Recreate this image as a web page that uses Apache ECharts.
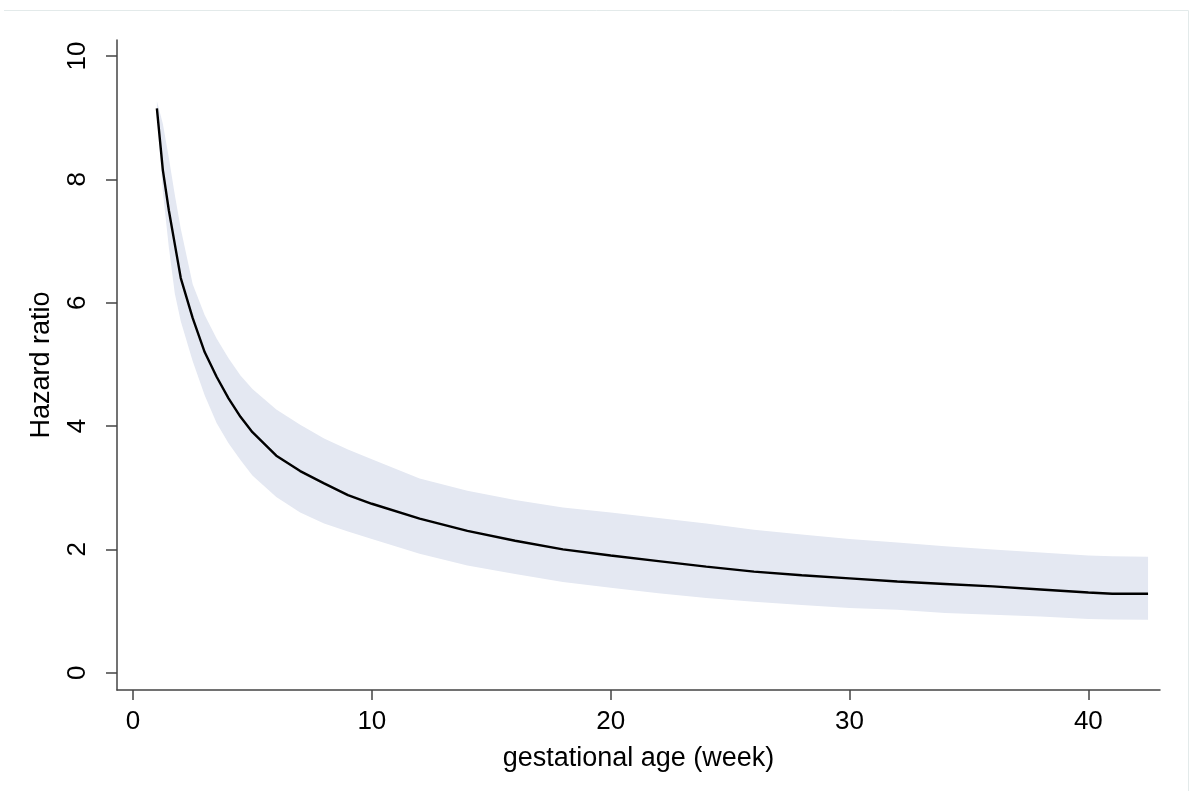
<!DOCTYPE html>
<html>
<head>
<meta charset="utf-8">
<script src="https://cdn.jsdelivr.net/npm/echarts@6/dist/echarts.min.js"></script>
<style>
html, body { margin: 0; padding: 0; background: #fff; }
#chart { width: 1195px; height: 791px; }
</style>
</head>
<body>
<div id="chart"></div>
<script>
// gestational age (week)
var weeks = [1, 1.25, 1.5, 1.75, 2, 2.5, 3, 3.5, 4, 4.5, 5, 6, 7, 8, 9, 10, 12, 14, 16, 18, 20, 22, 24, 26, 28, 30, 32, 34, 36, 38, 40, 41, 42.5];
// hazard ratio estimate
var hr = [9.15, 8.15, 7.5, 6.95, 6.4, 5.75, 5.2, 4.8, 4.45, 4.15, 3.9, 3.52, 3.27, 3.07, 2.88, 2.74, 2.5, 2.3, 2.14, 2.0, 1.9, 1.81, 1.72, 1.64, 1.58, 1.53, 1.48, 1.44, 1.4, 1.35, 1.3, 1.28, 1.28];
// confidence band
var upper = [9.27, 8.9, 8.35, 7.75, 7.2, 6.3, 5.8, 5.42, 5.1, 4.82, 4.6, 4.27, 4.02, 3.8, 3.62, 3.46, 3.15, 2.95, 2.8, 2.68, 2.6, 2.51, 2.42, 2.32, 2.24, 2.17, 2.11, 2.05, 2.0, 1.95, 1.9, 1.89, 1.88];
var lower = [9.05, 7.8, 6.9, 6.15, 5.7, 5.05, 4.5, 4.05, 3.72, 3.45, 3.2, 2.85, 2.6, 2.42, 2.29, 2.17, 1.93, 1.74, 1.6, 1.47, 1.38, 1.29, 1.21, 1.15, 1.1, 1.05, 1.02, 0.97, 0.94, 0.91, 0.87, 0.865, 0.86];
var xTicks = [0, 10, 20, 30, 40];
var yTicks = [0, 2, 4, 6, 8, 10];

var chart = echarts.init(document.getElementById('chart'));
var font = 'Liberation Sans, Arial, sans-serif';

var lineData = [];
for (var i = 0; i < weeks.length; i++) {
    lineData.push([weeks[i], hr[i]]);
}

// band drawn as one polygon: upper edge forward, lower edge back
function renderBand(params, api) {
    var pts = [];
    for (var i = 0; i < weeks.length; i++) {
        pts.push(api.coord([weeks[i], upper[i]]));
    }
    for (var j = weeks.length - 1; j >= 0; j--) {
        pts.push(api.coord([weeks[j], lower[j]]));
    }
    return {
        type: 'polygon',
        shape: { points: pts },
        style: { fill: '#e4e8f2', stroke: null }
    };
}

var option = {
    backgroundColor: '#fff',
    animation: false,
    graphic: [{
        type: 'polyline',
        shape: { points: [[4, 10.5], [1188.5, 10.5], [1188.5, 791]] },
        style: { stroke: '#e3eaea', fill: null, lineWidth: 1 }
    }],
    grid: {
        left: 117,
        top: 40,
        right: 35,
        bottom: 101
    },
    xAxis: {
        type: 'value',
        min: -0.67,
        max: 43,
        name: 'gestational age (week)',
        nameLocation: 'middle',
        nameGap: 55,
        nameTextStyle: { fontFamily: font, fontSize: 27, color: '#000' },
        axisLine: { show: true, onZero: false, lineStyle: { color: '#444', width: 1.5 } },
        axisTick: { show: true, length: 10, customValues: xTicks, lineStyle: { color: '#444', width: 1.5 } },
        axisLabel: { customValues: xTicks, margin: 19, fontFamily: font, fontSize: 26, color: '#000' },
        splitLine: { show: false }
    },
    yAxis: {
        type: 'value',
        min: -0.28,
        max: 10.26,
        name: 'Hazard ratio',
        nameLocation: 'middle',
        nameGap: 62,
        nameRotate: 90,
        nameTextStyle: { fontFamily: font, fontSize: 27, color: '#000' },
        axisLine: { show: true, onZero: false, lineStyle: { color: '#444', width: 1.5 } },
        axisTick: { show: true, length: 11, customValues: yTicks, lineStyle: { color: '#444', width: 1.5 } },
        axisLabel: { customValues: yTicks, rotate: 90, margin: 26, fontFamily: font, fontSize: 26, color: '#000' },
        splitLine: { show: false }
    },
    series: [
        {
            name: 'band',
            type: 'custom',
            renderItem: renderBand,
            data: [0],
            silent: true,
            z: 1
        },
        {
            name: 'Hazard ratio',
            type: 'line',
            data: lineData,
            symbol: 'none',
            lineStyle: { color: '#000', width: 2.4 },
            z: 5
        }
    ]
};
chart.setOption(option);
</script>
</body>
</html>
